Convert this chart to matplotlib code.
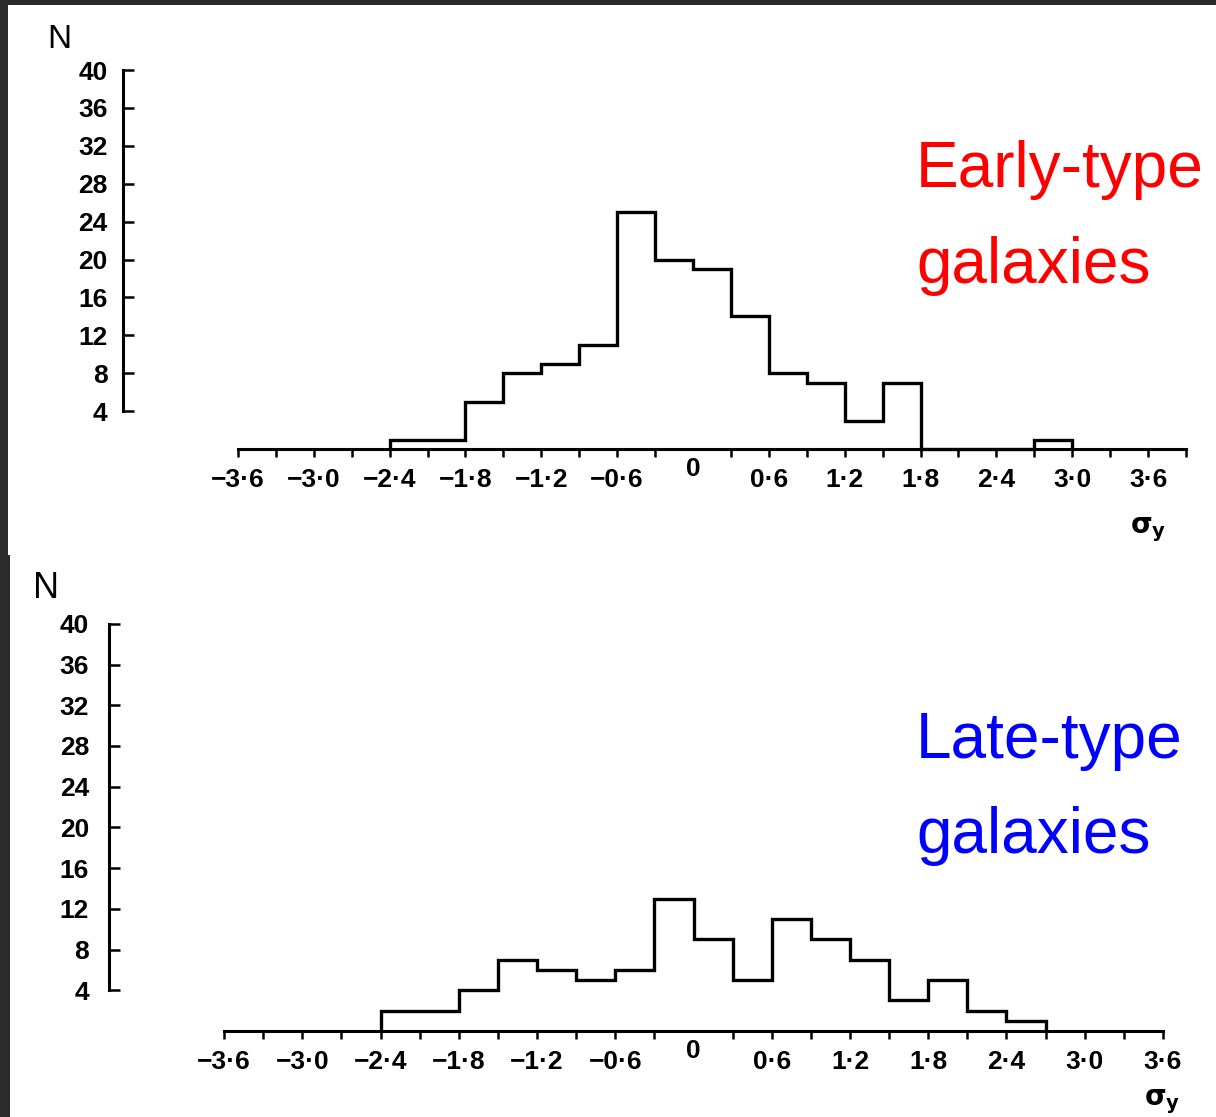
import matplotlib
matplotlib.use("Agg")
import matplotlib.pyplot as plt
import matplotlib.transforms as mtransforms
from matplotlib.patches import Rectangle

# ---------------- data ----------------
early_edges = [-2.4, -2.1, -1.8, -1.5, -1.2, -0.9, -0.6, -0.3, 0.0, 0.3,
               0.6, 0.9, 1.2, 1.5, 1.8, 2.1, 2.4, 2.7, 3.0]
early_counts = [1, 1, 5, 8, 9, 11, 25, 20, 19, 14, 8, 7, 3, 7, 0, 0, 0, 1]

late_edges = [-2.4, -2.1, -1.8, -1.5, -1.2, -0.9, -0.6, -0.3, 0.0, 0.3,
              0.6, 0.9, 1.2, 1.5, 1.8, 2.1, 2.4, 2.7]
late_counts = [2, 2, 4, 7, 6, 5, 6, 13, 9, 5, 11, 9, 7, 3, 5, 2, 1]

x_major_values = [-3.6, -3.0, -2.4, -1.8, -1.2, -0.6, 0.0, 0.6, 1.2, 1.8, 2.4, 3.0, 3.6]
x_major_labels = ["\u22123\u00b76", "\u22123\u00b70", "\u22122\u00b74", "\u22121\u00b78",
                  "\u22121\u00b72", "\u22120\u00b76", "0", "0\u00b76", "1\u00b72",
                  "1\u00b78", "2\u00b74", "3\u00b70", "3\u00b76"]
x_minor_early = [-3.3, -2.7, -2.1, -1.5, -0.9, -0.3, 0.3, 0.9, 1.5, 2.1, 2.7, 3.3, 3.9]
x_minor_late = [-3.3, -2.7, -2.1, -1.5, -0.9, -0.3, 0.3, 0.9, 1.5, 2.1, 2.7, 3.3]
y_tick_values = [4, 8, 12, 16, 20, 24, 28, 32, 36, 40]
y_tick_labels = ["4", "8", "12", "16", "20", "24", "28", "32", "36", "40"]

panel_titles = [("Early-type", "galaxies"), ("Late-type", "galaxies")]
panel_colors = ["#ff0000", "#0000ff"]

# ---------------- figure ----------------
W, H = 1216, 1117
fig = plt.figure(figsize=(W / 100, H / 100), dpi=100, facecolor="#2b2b2b")

def fx(px):
    return px / W

def fy(py):
    return 1 - py / H

# white page backgrounds (scanned panels)
fig.patches.append(Rectangle((fx(8), fy(555)), fx(W - 8), (555 - 5) / H,
                             transform=fig.transFigure, facecolor="white",
                             edgecolor="none", zorder=-10))
fig.patches.append(Rectangle((fx(10), fy(H)), fx(W - 10), (H - 555) / H,
                             transform=fig.transFigure, facecolor="white",
                             edgecolor="none", zorder=-10))

tick_font = dict(family=["Liberation Sans", "DejaVu Sans"], weight="bold", size=19)


def make_panel(top_px, bot_px, x0px, xscale, y0px, yscale, yaxis_px, x_end,
               edges, counts, minors, ylab_pad, zero_raise):
    ax = fig.add_axes([0, fy(bot_px), 1, (bot_px - top_px) / H])
    ax.patch.set_visible(False)
    ax.set_xlim((0 - x0px) / xscale, (W - x0px) / xscale)
    ax.set_ylim((y0px - bot_px) / yscale, (y0px - top_px) / yscale)

    ax.stairs(counts, edges, baseline=0, color="black", linewidth=2.4, zorder=3)

    for s in ["top", "right"]:
        ax.spines[s].set_visible(False)
    ax.spines["left"].set_position(("data", (yaxis_px - x0px) / xscale))
    ax.spines["left"].set_bounds(4, 40)
    ax.spines["bottom"].set_position(("data", 0))
    ax.spines["bottom"].set_bounds(-3.6, x_end)
    for s in ["left", "bottom"]:
        ax.spines[s].set_linewidth(2.2)
        ax.spines[s].set_color("black")

    ax.set_yticks(y_tick_values)
    ax.set_yticklabels(y_tick_labels, fontdict=tick_font)
    ax.tick_params(axis="y", direction="in", length=8, width=1.8, pad=ylab_pad)

    ax.set_xticks(x_major_values)
    ax.set_xticklabels(x_major_labels, fontdict=tick_font)
    ax.set_xticks(minors, minor=True)
    ax.tick_params(axis="x", which="both", direction="out", length=6, width=1.8, pad=8)

    for t in ax.xaxis.get_major_ticks():
        if abs(t.get_loc()) < 1e-9:
            t.tick1line.set_visible(False)
    for lab in ax.get_xticklabels():
        if lab.get_text() == "0":
            lab.set_transform(lab.get_transform() +
                              mtransforms.ScaledTranslation(0, zero_raise / 100, fig.dpi_scale_trans))
    return ax


ax1 = make_panel(5, 555, 693.0, 126.4, 449.0, 9.475, 123, 3.9,
                 early_edges, early_counts, x_minor_early, 11, 11)
ax2 = make_panel(555, H, 693.5, 130.4, 1031.0, 10.18, 108.5, 3.6,
                 late_edges, late_counts, x_minor_late, 14, 11)

# axis labels
fig.text(fx(59), fy(40), "N", ha="center", va="center",
         family=["Liberation Sans", "DejaVu Sans"], size=24)
fig.text(fx(46), fy(589), "N", ha="center", va="center",
         family=["Liberation Sans", "DejaVu Sans"], size=26)
fig.text(fx(1148), fy(530), r"$\mathbf{\sigma_y}$", ha="center", va="center", size=20)
fig.text(fx(1162), fy(1102), r"$\mathbf{\sigma_y}$", ha="center", va="center", size=20)

# panel titles
title_font = dict(family=["Liberation Sans", "DejaVu Sans"], size=46)
fig.text(fx(916), fy(187), panel_titles[0][0], color=panel_colors[0],
         ha="left", va="baseline", **title_font)
fig.text(fx(916), fy(283), panel_titles[0][1], color=panel_colors[0],
         ha="left", va="baseline", **title_font)
fig.text(fx(916), fy(758), panel_titles[1][0], color=panel_colors[1],
         ha="left", va="baseline", **title_font)
fig.text(fx(916), fy(853), panel_titles[1][1], color=panel_colors[1],
         ha="left", va="baseline", **title_font)

fig.savefig("out.png", dpi=100, facecolor=fig.get_facecolor())
